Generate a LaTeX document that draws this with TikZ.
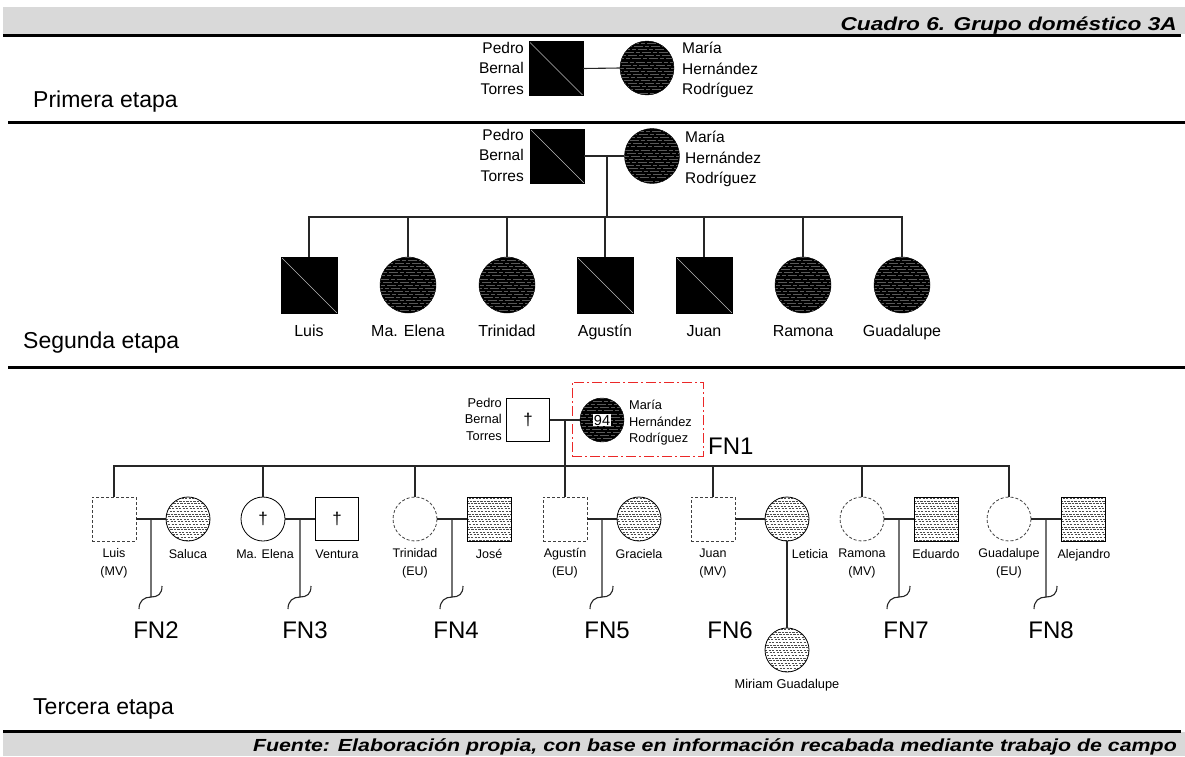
\documentclass[tikz,border=0pt]{standalone}
\usepackage{fontspec}
\setmainfont{Liberation Sans}
\usetikzlibrary{calc}

\definecolor{bandgray}{RGB}{217,217,217}
\definecolor{boxred}{RGB}{235,40,40}
\newcommand\fsz[2]{\fontsize{#1}{#2}\selectfont}
\newcommand\widebanner[1]{\scalebox{1.22}[1]{#1}}

\tikzset{
  conn/.style={line width=1.1pt, black!85},
  sepline/.style={line width=3pt, black},
  % dark square with a thin diagonal
  dsq/.style={rectangle, draw=black, fill=black, minimum size=#1, inner sep=0pt,
    path picture={\draw[gray!55, line width=0.5pt]
      (path picture bounding box.north west) -- (path picture bounding box.south east);}},
  % dark circle with horizontal streaks
  dci/.style={circle, draw=black, fill=black, minimum size=#1, inner sep=0pt,
    path picture={\foreach \k in {-10,...,10}{
      \draw[gray!70!black, line width=0.6pt, dash pattern=on 9pt off 2pt on 4pt off 2pt,
        dash phase={(\k+10)*3.7pt}]
        ([shift={(-35pt,\k*3.1pt)}]path picture bounding box.center) -- ++(70pt,0pt);}}},
  % dotted/dashed fill used for spouses
  dpat/.style={draw=black, line width=0.8pt, fill=white, minimum size=#1, inner sep=0pt,
    path picture={\foreach \k in {-9,...,9}{
      \draw[black!70, line width=0.45pt, dash pattern=on 2.2pt off 1.3pt,
        dash phase={(\k+10)*1.1pt}]
        ([shift={(-25pt,\k*2.6pt)}]path picture bounding box.center) -- ++(50pt,0pt);}}},
  psq/.style={rectangle, dpat=#1},
  pci/.style={circle, dpat=#1},
  % dashed outlines (absent members)
  dashsq/.style={rectangle, draw=black!75, line width=0.8pt, dash pattern=on 3pt off 2pt,
    minimum size=#1, inner sep=0pt},
  dashci/.style={circle, draw=black!75, line width=0.8pt, dash pattern=on 3pt off 2pt,
    minimum size=#1, inner sep=0pt},
  % plain outlines (deceased, with dagger)
  wsq/.style={rectangle, draw=black, line width=0.8pt, fill=white, minimum size=#1,
    inner sep=0pt, font=\fsz{17}{17}},
  wci/.style={circle, draw=black, line width=0.8pt, fill=white, minimum size=#1,
    inner sep=0pt, font=\fsz{17}{17}},
  namesL/.style={inner sep=1pt, align=right, anchor=north east, font=\fsz{15.5}{20.5}},
  namesR/.style={inner sep=1pt, align=left, anchor=north west, font=\fsz{15.5}{20.5}},
  kid/.style={inner sep=1pt, anchor=base, font=\fsz{16}{20}},
  smallL/.style={inner sep=1pt, align=right, anchor=north east, font=\fsz{12.8}{16.5}},
  smallR/.style={inner sep=1pt, align=left, anchor=north west, font=\fsz{12.8}{16.5}},
  lab/.style={inner sep=1pt, align=center, anchor=north, font=\fsz{12.5}{18}},
  lab1/.style={inner sep=1pt, anchor=base, font=\fsz{12.5}{18}},
  fn/.style={inner sep=1pt, anchor=base, font=\fsz{24}{24}},
  stage/.style={inner sep=0pt, anchor=base west, font=\fsz{23}{23}},
  banner/.style={inner sep=0pt, anchor=base east, font=\bfseries\itshape},
  redbox/.style={draw=boxred, line width=0.8pt, dash pattern=on 10pt off 3pt on 2pt off 3pt,
    inner sep=0pt},
  numbox/.style={fill=white, inner sep=0.8pt, font=\fsz{14.5}{14.5}}
}

\begin{document}
\begin{tikzpicture}[x=1pt,y=-1pt]
\useasboundingbox (0,0) rectangle (1185,756);

% ---- header and footer bands ----
\fill[bandgray] (3,7) rectangle (1185,34);
\draw[sepline] (3,35.5) -- (1181,35.5);
\node[banner, font=\fsz{18.6}{20}\bfseries\itshape] (title) at (1177,30)
  {\widebanner{Cuadro 6. Grupo doméstico 3A}};

\fill[bandgray] (3,732) rectangle (1185,756);
\draw[sepline] (3,731) -- (1181,731);
\node[banner, font=\fsz{17.5}{20}\bfseries\itshape] (source) at (1177,751)
  {\widebanner{Fuente: Elaboración propia, con base en información recabada mediante trabajo de campo}};

% ---- first stage ----
\node[dsq=54] (p1) at (556,68.5) {};
\node[dci=54] (m1) at (647,68) {};
\draw[conn] (p1.east) -- (m1.west);
\node[namesL] (p1t) at (525,41) {Pedro\\Bernal\\Torres};
\node[namesR] (m1t) at (681,41) {María\\Hernández\\Rodríguez};
\node[stage] (e1) at (33,107) {Primera etapa};
\draw[sepline] (8,122) -- (1185,122);

% ---- second stage ----
\node[dsq=54] (p2) at (557,156) {};
\node[dci=55] (m2) at (652,156) {};
\draw[conn] (p2.east) -- (m2.west);
\node[namesL] (p2t) at (525,128) {Pedro\\Bernal\\Torres};
\node[namesR] (m2t) at (684,130) {María\\Hernández\\Rodríguez};
\coordinate (j2) at (607,156);
\coordinate (b2) at (607,217);
\draw[conn] (j2) -- (b2);

\node[dsq=56] (c1) at (309,285) {};
\node[dci=56] (c2) at (408,285) {};
\node[dci=56] (c3) at (507,285) {};
\node[dsq=56] (c4) at (605,285) {};
\node[dsq=56] (c5) at (704,285) {};
\node[dci=56] (c6) at (803,285) {};
\node[dci=56] (c7) at (902,285) {};
\draw[conn] (c1.north) -- (c1.north |- b2) -- (c7.north |- b2) -- (c7.north);
\foreach \c in {c2,c3,c4,c5,c6}{\draw[conn] (\c.north) -- (\c.north |- b2);}

\node[kid] (c1t) at (309,336) {Luis};
\node[kid] (c2t) at (408,336) {Ma. Elena};
\node[kid] (c3t) at (507,336) {Trinidad};
\node[kid] (c4t) at (605,336) {Agustín};
\node[kid] (c5t) at (704,336) {Juan};
\node[kid] (c6t) at (803,336) {Ramona};
\node[kid] (c7t) at (902,336) {Guadalupe};
\node[stage] (e2) at (23,348) {Segunda etapa};
\draw[sepline] (8,367) -- (1185,367);

% ---- third stage ----
\node[redbox, minimum width=131, minimum height=74] (fn1box) at (637.5,419) {};
\node[wsq=43] (p3) at (528,420) {\textdagger};
\node[dci=44] (m3) at (602,420) {};
\node[numbox] (n94) at (m3.center) {94};
\draw[conn] (p3.east) -- (m3.west);
\node[smallL] (p3t) at (503,397) {Pedro\\Bernal\\Torres};
\node[smallR] (m3t) at (628,399) {María\\Hernández\\Rodríguez};
\node[fn, anchor=base west] (fn1) at (707,454) {FN1};
\coordinate (j3) at (565,420);
\coordinate (b3) at (565,466);
\draw[conn] (j3) -- (b3);

% children of the third stage
\node[dashsq=44] (f1) at (114,519) {};
\node[wci=44]    (f2) at (263,519) {\textdagger};
\node[dashci=44] (f3) at (415,519) {};
\node[dashsq=44] (f4) at (565,519) {};
\node[dashsq=44] (f5) at (713,519) {};
\node[dashci=44] (f6) at (862,519) {};
\node[dashci=44] (f7) at (1009,519) {};
% spouses
\node[pci=44] (g1) at (188,519) {};
\node[wsq=43] (g2) at (337,519) {\textdagger};
\node[psq=44] (g3) at (489,519) {};
\node[pci=44] (g4) at (639,519) {};
\node[pci=44] (g5) at (787,519) {};
\node[psq=44] (g6) at (936,519) {};
\node[psq=44] (g7) at (1083,519) {};

\draw[conn] (f1.north) -- (f1.north |- b3) -- (f7.north |- b3) -- (f7.north);
\foreach \f in {f2,f3,f4,f5,f6}{\draw[conn] (\f.north) -- (\f.north |- b3);}
\foreach \i in {1,...,7}{\draw[conn] (f\i.east) -- (g\i.west);}

% descent lines ending in a break mark
\coordinate (s1) at (151,597);
\coordinate (s2) at (300,597);
\coordinate (s3) at (452,597);
\coordinate (s4) at (602,597);
\coordinate (s6) at (899,597);
\coordinate (s7) at (1046,597);
\foreach \i in {1,2,3,4,6,7}{
  \draw[conn] (s\i |- f\i.east) -- (s\i)
    .. controls +(7,0) and +(0,8) .. ++(11,-11);
  \draw[conn] (s\i) .. controls +(-7,0) and +(0,-8) .. ++(-12,12);
}

% Juan and Leticia's daughter
\node[pci=44] (h1) at (787,650) {};
\draw[conn] (g5.south) -- (h1.north);
\node[inner sep=0pt, anchor=base, font=\fsz{12.8}{14}] (h1t) at (787,688) {Miriam Guadalupe};

% names
\node[lab] (f1t) at (114,547.5) {Luis\\(MV)};
\node[lab1] (f2t) at (265,558) {Ma. Elena};
\node[lab] (f3t) at (415,547.5) {Trinidad\\(EU)};
\node[lab] (f4t) at (565,547.5) {Agustín\\(EU)};
\node[lab] (f5t) at (713,547.5) {Juan\\(MV)};
\node[lab] (f6t) at (862,547.5) {Ramona\\(MV)};
\node[lab] (f7t) at (1009,547.5) {Guadalupe\\(EU)};
\node[lab1] (g1t) at (188,558) {Saluca};
\node[lab1] (g2t) at (337,558) {Ventura};
\node[lab1] (g3t) at (489,558) {José};
\node[lab1] (g4t) at (639,558) {Graciela};
\node[lab1] (g5t) at (810,558) {Leticia};
\node[lab1] (g6t) at (936,558) {Eduardo};
\node[lab1] (g7t) at (1084,558) {Alejandro};

% family numbers
\node[fn] (fn2) at (156,638) {FN2};
\node[fn] (fn3) at (305,638) {FN3};
\node[fn] (fn4) at (456,638) {FN4};
\node[fn] (fn5) at (607,638) {FN5};
\node[fn] (fn6) at (730,638) {FN6};
\node[fn] (fn7) at (906,638) {FN7};
\node[fn] (fn8) at (1051,638) {FN8};

\node[stage] (e3) at (33,714) {Tercera etapa};
\end{tikzpicture}
\end{document}
